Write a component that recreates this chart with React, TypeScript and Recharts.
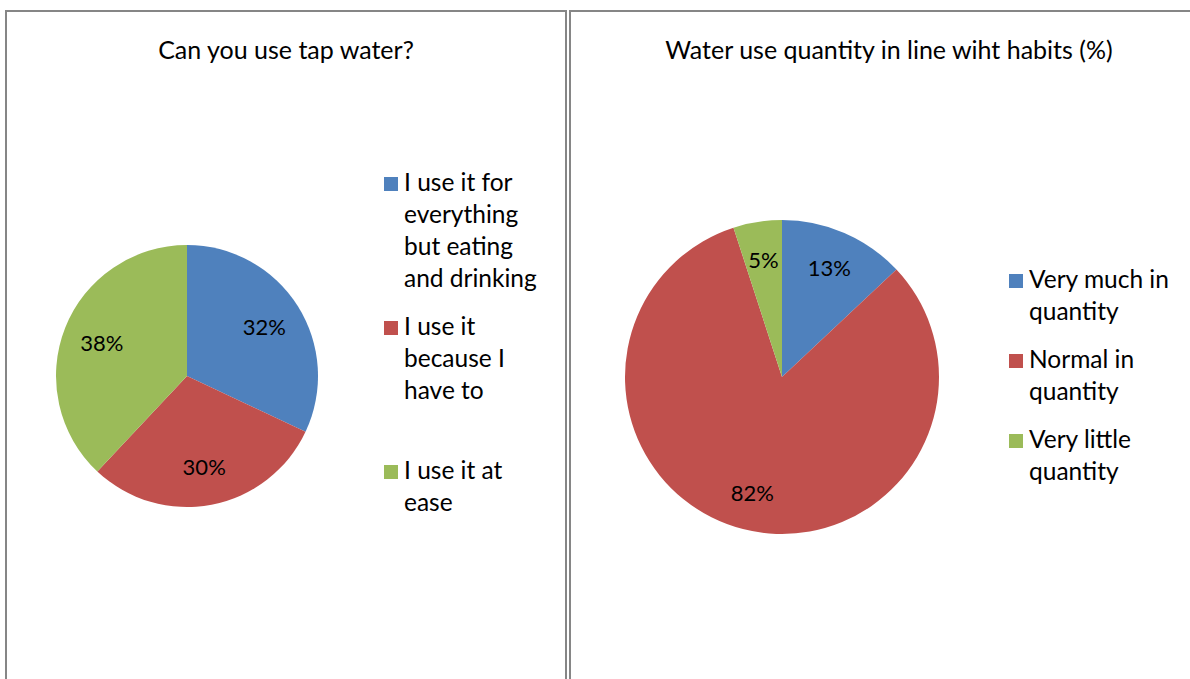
import React from 'react';
import { PieChart, Pie, Cell } from 'recharts';

const tapLabels = ['I use it for everything but eating and drinking', 'I use it because I have to', 'I use it at ease'];
const tapValues = [32, 30, 38];

const qtyLabels = ['Very much in quantity', 'Normal in quantity', 'Very little quantity'];
const qtyValues = [13, 82, 5];

const COLORS = ['#4F81BD', '#C0504D', '#9BBB59'];
const FONT = 'Lato, Calibri, Carlito, sans-serif';

const RAD = Math.PI / 180;

function makeLabel(factor: number) {
  return (props: any) => {
    const { cx, cy, midAngle, outerRadius, value } = props;
    const r = outerRadius * factor;
    const x = cx + r * Math.cos(-midAngle * RAD);
    const y = cy + r * Math.sin(-midAngle * RAD);
    return (
      <text x={x} y={y} textAnchor="middle" dominantBaseline="central" fill="#000" fontSize={22} fontFamily={FONT}>
        {value}%
      </text>
    );
  };
}

function LegendBox({ items, wrapWidth, spacing, left, top }: { items: string[]; wrapWidth: number; spacing: number; left: number; top: number }) {
  return (
    <div style={{ position: 'absolute', left, top, fontFamily: FONT, fontSize: 24.5, lineHeight: '32px', color: '#000' }}>
      {items.map((name, i) => (
        <div key={name} style={{ position: 'absolute', top: i * spacing, left: 0, display: 'flex' }}>
          <span style={{ width: 14, height: 14, background: COLORS[i], marginTop: 11, marginRight: 6, flexShrink: 0 }} />
          <span style={{ width: wrapWidth }}>{name}</span>
        </div>
      ))}
    </div>
  );
}

const panelStyle: React.CSSProperties = {
  position: 'absolute',
  top: 10,
  height: 700,
  border: '2px solid #868686',
  borderBottom: 'none',
  background: '#fff',
  boxSizing: 'border-box',
};

const titleStyle: React.CSSProperties = {
  position: 'absolute',
  top: 22,
  left: 0,
  width: '100%',
  textAlign: 'center',
  fontFamily: FONT,
  fontSize: 25,
  color: '#000',
};

export default function App() {
  const tapData = tapLabels.map((name, i) => ({ name, value: tapValues[i] }));
  const qtyData = qtyLabels.map((name, i) => ({ name, value: qtyValues[i] }));

  return (
    <div style={{ position: 'absolute', left: 0, top: 0, width: 1190, height: 679, overflow: 'hidden', background: '#fff' }}>
      <div style={{ ...panelStyle, left: 5, width: 562 }}>
        <div style={titleStyle}>Can you use tap water?</div>
        <PieChart width={558} height={660}>
          <Pie
            data={tapData}
            dataKey="value"
            cx={175}
            cy={359}
            outerRadius={131}
            startAngle={90}
            endAngle={-270}
            stroke="none"
            label={makeLabel(0.7)}
            labelLine={false}
            isAnimationActive={false}
          >
            {tapData.map((d, i) => (
              <Cell key={d.name} fill={COLORS[i]} />
            ))}
          </Pie>
        </PieChart>
        <LegendBox items={tapLabels} wrapWidth={142} spacing={144} left={377} top={154} />
      </div>
      <div style={{ ...panelStyle, left: 569, width: 640 }}>
        <div style={titleStyle}>Water use quantity in line wiht habits (%)</div>
        <PieChart width={636} height={660}>
          <Pie
            data={qtyData}
            dataKey="value"
            cx={206}
            cy={360}
            outerRadius={157}
            startAngle={90}
            endAngle={-270}
            stroke="none"
            label={makeLabel(0.76)}
            labelLine={false}
            isAnimationActive={false}
          >
            {qtyData.map((d, i) => (
              <Cell key={d.name} fill={COLORS[i]} />
            ))}
          </Pie>
        </PieChart>
        <LegendBox items={qtyLabels} wrapWidth={160} spacing={80} left={438} top={251} />
      </div>
    </div>
  );
}
